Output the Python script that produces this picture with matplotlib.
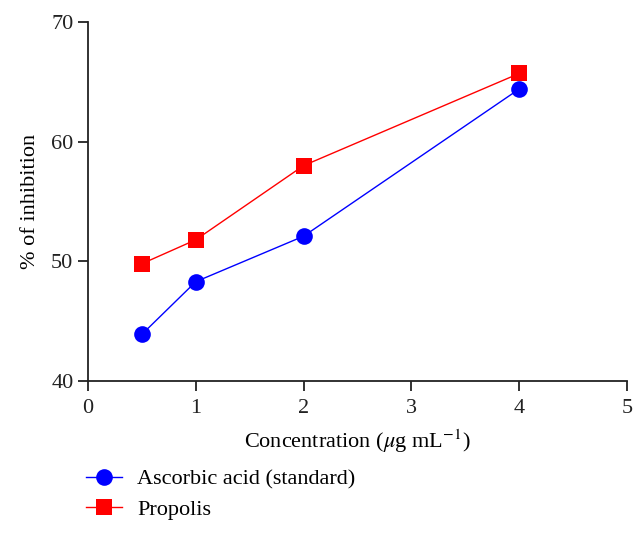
import matplotlib

matplotlib.use("Agg")
import matplotlib.pyplot as plt
from matplotlib.lines import Line2D

plt.rcParams["font.family"] = ["Liberation Serif", "DejaVu Serif"]
plt.rcParams["mathtext.fontset"] = "stix"

# Concentration (ug/mL) and % inhibition
concentration = [0.5, 1, 2, 4]
ascorbic = [43.9, 48.3, 52.1, 64.4]
propolis = [49.8, 51.8, 58.0, 65.7]

x_ticks = [0, 1, 2, 3, 4, 5]
y_ticks = [40, 50, 60, 70]

fig = plt.figure(figsize=(6.44, 5.33), dpi=100)
ax = fig.add_axes([88 / 644, 1 - 381 / 533, (627 - 88) / 644, (381 - 22) / 533])

ax.plot(concentration, ascorbic, color="#0000ff", linewidth=1.0, marker="o",
        markersize=12, markeredgewidth=0, label="Ascorbic acid (standard)")
ax.plot(concentration, propolis, color="#ff0000", linewidth=1.0, marker="s",
        markersize=11.5, markeredgewidth=0, label="Propolis")

ax.set_xlim(0, 5)
ax.set_ylim(40, 70)
ax.set_xticks(x_ticks)
ax.set_yticks(y_ticks)
for side in ("top", "right"):
    ax.spines[side].set_visible(False)
for side in ("left", "bottom"):
    ax.spines[side].set_linewidth(1.3)
    ax.spines[side].set_color("#222222")
ax.tick_params(direction="out", length=7, width=1.3, labelsize=16, colors="#222222")
ax.tick_params(axis="x", pad=6)
ax.set_xlabel(r"Concentration ($\mu$g mL$^{-1}$)", fontsize=16, labelpad=7)
ax.set_ylabel("% of inhibition", fontsize=16, labelpad=8)

handles = [
    Line2D([], [], color="#0000ff", linewidth=1.0, marker="o", markersize=12,
           markeredgewidth=0, label="Ascorbic acid (standard)"),
    Line2D([], [], color="#ff0000", linewidth=1.0, marker="s", markersize=11.5,
           markeredgewidth=0, label="Propolis"),
]
fig.legend(handles=handles, loc="upper left", bbox_to_anchor=(86 / 644, 1 - 469 / 533),
           frameon=False, fontsize=16, handlelength=1.6, handletextpad=0.7,
           labelspacing=0.45, borderaxespad=0, borderpad=0)

fig.savefig("out.png", dpi=100)
